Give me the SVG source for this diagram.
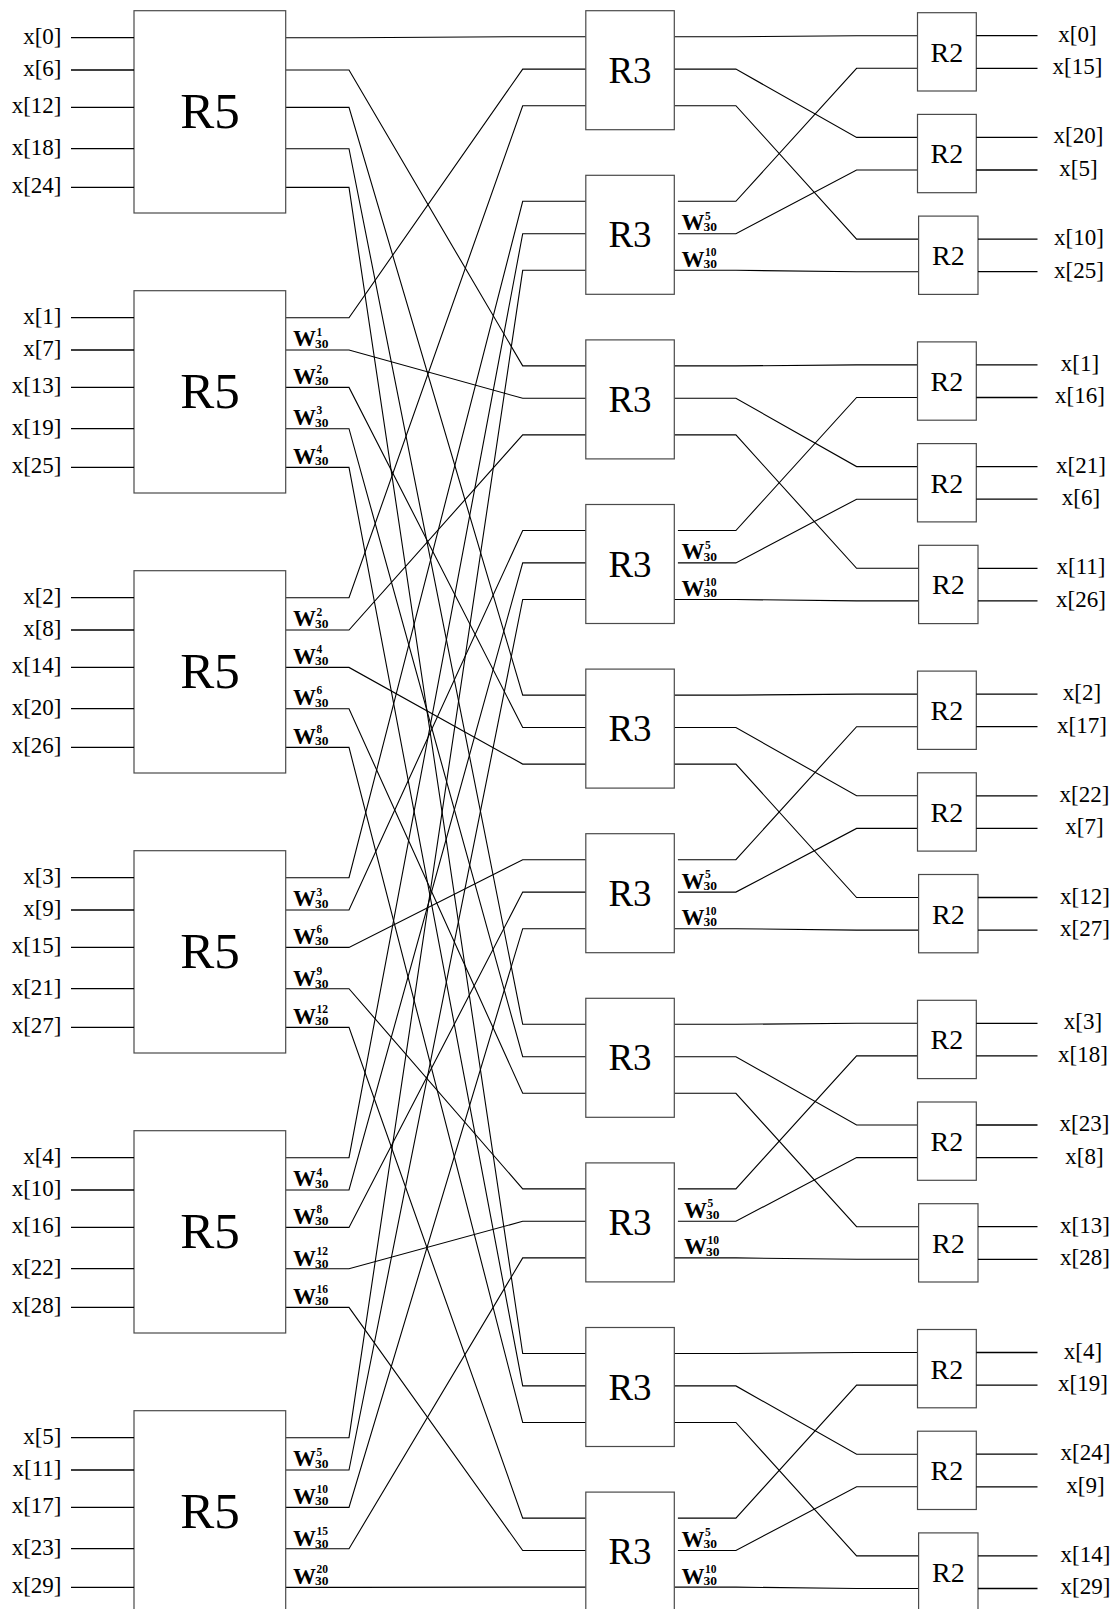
<svg xmlns="http://www.w3.org/2000/svg" width="1115" height="1609" viewBox="0 0 1115 1609">
<style>
  .box{fill:#fff;stroke:#4a4a4a;stroke-width:1.2}
  .wire{fill:none;stroke:#000;stroke-width:1.1}
  .stub{fill:none;stroke:#000;stroke-width:1.3}
  .io{font-family:"Liberation Serif","Times New Roman",serif;font-size:23px;fill:#000}
  .in{text-anchor:end}
  .out{text-anchor:middle}
  .title{font-family:"Liberation Serif","Times New Roman",serif;fill:#000;text-anchor:middle}
  .t5{font-size:51px}
  .t3{font-size:37px}
  .t2{font-size:28px}
  .w{font-family:"Liberation Serif","Times New Roman",serif;font-weight:bold;font-size:23px;fill:#000}
  .sub{font-size:13.5px}
  .sup{font-size:11.5px}
</style>

<!-- ===== connectors: R5 -> R3 and R3 -> R2 ===== -->
<g id="connectors" class="wire">
  <!-- R5 outputs to R3 inputs -->
  <path d="M285.7,37.7H349L522.7,36.7H585.8"/>
  <path d="M285.7,70H349L522.7,365.9H585.8"/>
  <path d="M285.7,107.4H349L522.7,695.1H585.8"/>
  <path d="M285.7,148.7H349L522.7,1024.3H585.8"/>
  <path d="M285.7,187.4H349L522.7,1353.5H585.8"/>
  <path d="M285.7,317.7H349L522.7,69.1H585.8"/>
  <path d="M285.7,350H349L522.7,398.3H585.8"/>
  <path d="M285.7,387.4H349L522.7,727.5H585.8"/>
  <path d="M285.7,428.7H349L522.7,1056.7H585.8"/>
  <path d="M285.7,467.4H349L522.7,1385.9H585.8"/>
  <path d="M285.7,597.7H349L522.7,105.7H585.8"/>
  <path d="M285.7,630H349L522.7,434.9H585.8"/>
  <path d="M285.7,667.4H349L522.7,764.1H585.8"/>
  <path d="M285.7,708.7H349L522.7,1093.3H585.8"/>
  <path d="M285.7,747.4H349L522.7,1422.5H585.8"/>
  <path d="M285.7,877.7H349L522.7,201.3H585.8"/>
  <path d="M285.7,910H349L522.7,530.5H585.8"/>
  <path d="M285.7,947.4H349L522.7,859.7H585.8"/>
  <path d="M285.7,988.7H349L522.7,1188.9H585.8"/>
  <path d="M285.7,1027.4H349L522.7,1518.1H585.8"/>
  <path d="M285.7,1157.7H349L522.7,233.7H585.8"/>
  <path d="M285.7,1190H349L522.7,562.9H585.8"/>
  <path d="M285.7,1227.4H349L522.7,892.1H585.8"/>
  <path d="M285.7,1268.7H349L522.7,1221.3H585.8"/>
  <path d="M285.7,1307.4H349L522.7,1550.5H585.8"/>
  <path d="M285.7,1437.7H349L522.7,270.3H585.8"/>
  <path d="M285.7,1470H349L522.7,599.5H585.8"/>
  <path d="M285.7,1507.4H349L522.7,928.7H585.8"/>
  <path d="M285.7,1548.7H349L522.7,1257.9H585.8"/>
  <path d="M285.7,1587.4H349L522.7,1587.1H585.8"/>

  <!-- R3 outputs to R2 inputs -->
  <path d="M674.3,36.7H735.9L856.6,35.7H917.5"/>
  <path d="M674.3,69.1H735.9L856.6,137.4H917.5"/>
  <path d="M674.3,105.7H735.9L856.6,239.1H918.6"/>
  <path d="M677.9,201.3H735.9L856.6,68.3H917.5"/>
  <path d="M677.9,233.7H735.9L856.6,170H917.5"/>
  <path d="M674.3,270.3H735.9L856.6,271.7H918.6"/>

  <path d="M674.3,365.9H735.9L856.6,364.9H917.5"/>
  <path d="M674.3,398.3H735.9L856.6,466.6H917.5"/>
  <path d="M674.3,434.9H735.9L856.6,568.3H918.6"/>
  <path d="M677.9,530.5H735.9L856.6,397.5H917.5"/>
  <path d="M677.9,562.9H735.9L856.6,499.2H917.5"/>
  <path d="M674.3,599.5H735.9L856.6,600.9H918.6"/>

  <path d="M674.3,695.1H735.9L856.6,694.1H917.5"/>
  <path d="M674.3,727.5H735.9L856.6,795.8H917.5"/>
  <path d="M674.3,764.1H735.9L856.6,897.5H918.6"/>
  <path d="M677.9,859.7H735.9L856.6,726.7H917.5"/>
  <path d="M677.9,892.1H735.9L856.6,828.4H917.5"/>
  <path d="M674.3,928.7H735.9L856.6,930.1H918.6"/>

  <path d="M674.3,1024.3H735.9L856.6,1023.3H917.5"/>
  <path d="M674.3,1056.7H735.9L856.6,1125H917.5"/>
  <path d="M674.3,1093.3H735.9L856.6,1226.7H918.6"/>
  <path d="M677.9,1188.9H735.9L856.6,1055.9H917.5"/>
  <path d="M677.9,1221.3H735.9L856.6,1157.6H917.5"/>
  <path d="M674.3,1257.9H735.9L856.6,1259.3H918.6"/>

  <path d="M674.3,1353.5H735.9L856.6,1352.5H917.5"/>
  <path d="M674.3,1385.9H735.9L856.6,1454.2H917.5"/>
  <path d="M674.3,1422.5H735.9L856.6,1555.9H918.6"/>
  <path d="M677.9,1518.1H735.9L856.6,1385.1H917.5"/>
  <path d="M677.9,1550.5H735.9L856.6,1486.8H917.5"/>
  <path d="M674.3,1587.1H735.9L856.6,1588.5H918.6"/>
</g>

<!-- ===== radix-5 stage ===== -->
<g id="r5-0" transform="translate(0,10.7)">
  <rect class="box" x="134" y="0" width="151.7" height="202.3"/>
  <text class="title t5" x="209.9" y="117.5">R5</text>
  <path class="stub" d="M71,27H134M71,59.3H134M71,96.7H134M71,138H134M71,176.7H134"/>
  <text class="io in" x="61.5" y="33">x[0]</text>
  <text class="io in" x="61.5" y="65.3">x[6]</text>
  <text class="io in" x="61.5" y="102.7">x[12]</text>
  <text class="io in" x="61.5" y="144">x[18]</text>
  <text class="io in" x="61.5" y="182.7">x[24]</text>
</g>

<g id="r5-1" transform="translate(0,290.7)">
  <rect class="box" x="134" y="0" width="151.7" height="202.3"/>
  <text class="title t5" x="209.9" y="117.5">R5</text>
  <path class="stub" d="M71,27H134M71,59.3H134M71,96.7H134M71,138H134M71,176.7H134"/>
  <text class="io in" x="61.5" y="33">x[1]</text>
  <text class="io in" x="61.5" y="65.3">x[7]</text>
  <text class="io in" x="61.5" y="102.7">x[13]</text>
  <text class="io in" x="61.5" y="144">x[19]</text>
  <text class="io in" x="61.5" y="182.7">x[25]</text>
  <text class="w" x="293" y="55.8">W<tspan class="sub" x="315" y="57.3">30</tspan><tspan class="sup" x="316.5" y="45">1</tspan></text>
  <text class="w" x="293" y="93.2">W<tspan class="sub" x="315" y="94.7">30</tspan><tspan class="sup" x="316.5" y="82.4">2</tspan></text>
  <text class="w" x="293" y="134.5">W<tspan class="sub" x="315" y="136">30</tspan><tspan class="sup" x="316.5" y="123.7">3</tspan></text>
  <text class="w" x="293" y="173.2">W<tspan class="sub" x="315" y="174.7">30</tspan><tspan class="sup" x="316.5" y="162.4">4</tspan></text>
</g>

<g id="r5-2" transform="translate(0,570.7)">
  <rect class="box" x="134" y="0" width="151.7" height="202.3"/>
  <text class="title t5" x="209.9" y="117.5">R5</text>
  <path class="stub" d="M71,27H134M71,59.3H134M71,96.7H134M71,138H134M71,176.7H134"/>
  <text class="io in" x="61.5" y="33">x[2]</text>
  <text class="io in" x="61.5" y="65.3">x[8]</text>
  <text class="io in" x="61.5" y="102.7">x[14]</text>
  <text class="io in" x="61.5" y="144">x[20]</text>
  <text class="io in" x="61.5" y="182.7">x[26]</text>
  <text class="w" x="293" y="55.8">W<tspan class="sub" x="315" y="57.3">30</tspan><tspan class="sup" x="316.5" y="45">2</tspan></text>
  <text class="w" x="293" y="93.2">W<tspan class="sub" x="315" y="94.7">30</tspan><tspan class="sup" x="316.5" y="82.4">4</tspan></text>
  <text class="w" x="293" y="134.5">W<tspan class="sub" x="315" y="136">30</tspan><tspan class="sup" x="316.5" y="123.7">6</tspan></text>
  <text class="w" x="293" y="173.2">W<tspan class="sub" x="315" y="174.7">30</tspan><tspan class="sup" x="316.5" y="162.4">8</tspan></text>
</g>

<g id="r5-3" transform="translate(0,850.7)">
  <rect class="box" x="134" y="0" width="151.7" height="202.3"/>
  <text class="title t5" x="209.9" y="117.5">R5</text>
  <path class="stub" d="M71,27H134M71,59.3H134M71,96.7H134M71,138H134M71,176.7H134"/>
  <text class="io in" x="61.5" y="33">x[3]</text>
  <text class="io in" x="61.5" y="65.3">x[9]</text>
  <text class="io in" x="61.5" y="102.7">x[15]</text>
  <text class="io in" x="61.5" y="144">x[21]</text>
  <text class="io in" x="61.5" y="182.7">x[27]</text>
  <text class="w" x="293" y="55.8">W<tspan class="sub" x="315" y="57.3">30</tspan><tspan class="sup" x="316.5" y="45">3</tspan></text>
  <text class="w" x="293" y="93.2">W<tspan class="sub" x="315" y="94.7">30</tspan><tspan class="sup" x="316.5" y="82.4">6</tspan></text>
  <text class="w" x="293" y="135.5">W<tspan class="sub" x="315" y="137">30</tspan><tspan class="sup" x="316.5" y="124.7">9</tspan></text>
  <text class="w" x="293" y="173.2">W<tspan class="sub" x="315" y="174.7">30</tspan><tspan class="sup" x="316.5" y="162.4">12</tspan></text>
</g>

<g id="r5-4" transform="translate(0,1130.7)">
  <rect class="box" x="134" y="0" width="151.7" height="202.3"/>
  <text class="title t5" x="209.9" y="117.5">R5</text>
  <path class="stub" d="M71,27H134M71,59.3H134M71,96.7H134M71,138H134M71,176.7H134"/>
  <text class="io in" x="61.5" y="33">x[4]</text>
  <text class="io in" x="61.5" y="65.3">x[10]</text>
  <text class="io in" x="61.5" y="102.7">x[16]</text>
  <text class="io in" x="61.5" y="144">x[22]</text>
  <text class="io in" x="61.5" y="182.7">x[28]</text>
  <text class="w" x="293" y="55.8">W<tspan class="sub" x="315" y="57.3">30</tspan><tspan class="sup" x="316.5" y="45">4</tspan></text>
  <text class="w" x="293" y="93.2">W<tspan class="sub" x="315" y="94.7">30</tspan><tspan class="sup" x="316.5" y="82.4">8</tspan></text>
  <text class="w" x="293" y="135.5">W<tspan class="sub" x="315" y="137">30</tspan><tspan class="sup" x="316.5" y="124.7">12</tspan></text>
  <text class="w" x="293" y="173.2">W<tspan class="sub" x="315" y="174.7">30</tspan><tspan class="sup" x="316.5" y="162.4">16</tspan></text>
</g>

<g id="r5-5" transform="translate(0,1410.7)">
  <rect class="box" x="134" y="0" width="151.7" height="202.3"/>
  <text class="title t5" x="209.9" y="117.5">R5</text>
  <path class="stub" d="M71,27H134M71,59.3H134M71,96.7H134M71,138H134M71,176.7H134"/>
  <text class="io in" x="61.5" y="33">x[5]</text>
  <text class="io in" x="61.5" y="65.3">x[11]</text>
  <text class="io in" x="61.5" y="102.7">x[17]</text>
  <text class="io in" x="61.5" y="144">x[23]</text>
  <text class="io in" x="61.5" y="182.7">x[29]</text>
  <text class="w" x="293" y="55.8">W<tspan class="sub" x="315" y="57.3">30</tspan><tspan class="sup" x="316.5" y="45">5</tspan></text>
  <text class="w" x="293" y="93.2">W<tspan class="sub" x="315" y="94.7">30</tspan><tspan class="sup" x="316.5" y="82.4">10</tspan></text>
  <text class="w" x="293" y="135.5">W<tspan class="sub" x="315" y="137">30</tspan><tspan class="sup" x="316.5" y="124.7">15</tspan></text>
  <text class="w" x="293" y="173.2">W<tspan class="sub" x="315" y="174.7">30</tspan><tspan class="sup" x="316.5" y="162.4">20</tspan></text>
</g>

<!-- ===== radix-3 stage ===== -->
<g id="r3-0" transform="translate(0,10.7)">
  <rect class="box" x="585.8" y="0" width="88.5" height="119"/>
  <text class="title t3" x="630" y="72">R3</text>
</g>
<g id="r3-1" transform="translate(0,175.3)">
  <rect class="box" x="585.8" y="0" width="88.5" height="119"/>
  <text class="title t3" x="630" y="72">R3</text>
  <text class="w" x="681.5" y="54.9">W<tspan class="sub" x="703.5" y="56.1">30</tspan><tspan class="sup" x="705" y="44.4">5</tspan></text>
  <text class="w" x="681.5" y="91.5">W<tspan class="sub" x="703.5" y="92.7">30</tspan><tspan class="sup" x="705" y="81">10</tspan></text>
</g>
<g id="r3-2" transform="translate(0,339.9)">
  <rect class="box" x="585.8" y="0" width="88.5" height="119"/>
  <text class="title t3" x="630" y="72">R3</text>
</g>
<g id="r3-3" transform="translate(0,504.5)">
  <rect class="box" x="585.8" y="0" width="88.5" height="119"/>
  <text class="title t3" x="630" y="72">R3</text>
  <text class="w" x="681.5" y="54.9">W<tspan class="sub" x="703.5" y="56.1">30</tspan><tspan class="sup" x="705" y="44.4">5</tspan></text>
  <text class="w" x="681.5" y="91.5">W<tspan class="sub" x="703.5" y="92.7">30</tspan><tspan class="sup" x="705" y="81">10</tspan></text>
</g>
<g id="r3-4" transform="translate(0,669.1)">
  <rect class="box" x="585.8" y="0" width="88.5" height="119"/>
  <text class="title t3" x="630" y="72">R3</text>
</g>
<g id="r3-5" transform="translate(0,833.7)">
  <rect class="box" x="585.8" y="0" width="88.5" height="119"/>
  <text class="title t3" x="630" y="72">R3</text>
  <text class="w" x="681.5" y="54.9">W<tspan class="sub" x="703.5" y="56.1">30</tspan><tspan class="sup" x="705" y="44.4">5</tspan></text>
  <text class="w" x="681.5" y="91.5">W<tspan class="sub" x="703.5" y="92.7">30</tspan><tspan class="sup" x="705" y="81">10</tspan></text>
</g>
<g id="r3-6" transform="translate(0,998.3)">
  <rect class="box" x="585.8" y="0" width="88.5" height="119"/>
  <text class="title t3" x="630" y="72">R3</text>
</g>
<g id="r3-7" transform="translate(0,1162.9)">
  <rect class="box" x="585.8" y="0" width="88.5" height="119"/>
  <text class="title t3" x="630" y="72">R3</text>
  <text class="w" x="684" y="54.9">W<tspan class="sub" x="706" y="56.1">30</tspan><tspan class="sup" x="707.5" y="44.4">5</tspan></text>
  <text class="w" x="684" y="91.5">W<tspan class="sub" x="706" y="92.7">30</tspan><tspan class="sup" x="707.5" y="81">10</tspan></text>
</g>
<g id="r3-8" transform="translate(0,1327.5)">
  <rect class="box" x="585.8" y="0" width="88.5" height="119"/>
  <text class="title t3" x="630" y="72">R3</text>
</g>
<g id="r3-9" transform="translate(0,1492.1)">
  <rect class="box" x="585.8" y="0" width="88.5" height="119"/>
  <text class="title t3" x="630" y="72">R3</text>
  <text class="w" x="681.5" y="54.9">W<tspan class="sub" x="703.5" y="56.1">30</tspan><tspan class="sup" x="705" y="44.4">5</tspan></text>
  <text class="w" x="681.5" y="91.5">W<tspan class="sub" x="703.5" y="92.7">30</tspan><tspan class="sup" x="705" y="81">10</tspan></text>
</g>

<!-- ===== radix-2 stage ===== -->
<g id="r2-0-0" transform="translate(0,12.7)">
  <rect class="box" x="917.5" y="0" width="58.8" height="78.3"/>
  <text class="title t2" x="946.9" y="49">R2</text>
  <path class="stub" d="M976.3,23H1037.5M976.3,55.6H1037.5"/>
  <text class="io out" x="1077.5" y="29">x[0]</text>
  <text class="io out" x="1077.5" y="61.6">x[15]</text>
</g>
<g id="r2-0-1" transform="translate(0,114.4)">
  <rect class="box" x="917.5" y="0" width="58.8" height="78.3"/>
  <text class="title t2" x="946.9" y="49">R2</text>
  <path class="stub" d="M976.3,23H1037.5M976.3,55.6H1037.5"/>
  <text class="io out" x="1078.5" y="29">x[20]</text>
  <text class="io out" x="1078.5" y="61.6">x[5]</text>
</g>
<g id="r2-0-2" transform="translate(0,216.1)">
  <rect class="box" x="918.6" y="0" width="59.4" height="78.3"/>
  <text class="title t2" x="948.3" y="49">R2</text>
  <path class="stub" d="M978,23H1037.5M978,55.6H1037.5"/>
  <text class="io out" x="1079" y="29">x[10]</text>
  <text class="io out" x="1079" y="61.6">x[25]</text>
</g>

<g id="r2-1-0" transform="translate(0,341.9)">
  <rect class="box" x="917.5" y="0" width="58.8" height="78.3"/>
  <text class="title t2" x="946.9" y="49">R2</text>
  <path class="stub" d="M976.3,23H1037.5M976.3,55.6H1037.5"/>
  <text class="io out" x="1080" y="29">x[1]</text>
  <text class="io out" x="1080" y="61.6">x[16]</text>
</g>
<g id="r2-1-1" transform="translate(0,443.6)">
  <rect class="box" x="917.5" y="0" width="58.8" height="78.3"/>
  <text class="title t2" x="946.9" y="49">R2</text>
  <path class="stub" d="M976.3,23H1037.5M976.3,55.6H1037.5"/>
  <text class="io out" x="1081" y="29">x[21]</text>
  <text class="io out" x="1081" y="61.6">x[6]</text>
</g>
<g id="r2-1-2" transform="translate(0,545.3)">
  <rect class="box" x="918.6" y="0" width="59.4" height="78.3"/>
  <text class="title t2" x="948.3" y="49">R2</text>
  <path class="stub" d="M978,23H1037.5M978,55.6H1037.5"/>
  <text class="io out" x="1081" y="29">x[11]</text>
  <text class="io out" x="1081" y="61.6">x[26]</text>
</g>

<g id="r2-2-0" transform="translate(0,671.1)">
  <rect class="box" x="917.5" y="0" width="58.8" height="78.3"/>
  <text class="title t2" x="946.9" y="49">R2</text>
  <path class="stub" d="M976.3,23H1037.5M976.3,55.6H1037.5"/>
  <text class="io out" x="1082" y="29">x[2]</text>
  <text class="io out" x="1082" y="61.6">x[17]</text>
</g>
<g id="r2-2-1" transform="translate(0,772.8)">
  <rect class="box" x="917.5" y="0" width="58.8" height="78.3"/>
  <text class="title t2" x="946.9" y="49">R2</text>
  <path class="stub" d="M976.3,23H1037.5M976.3,55.6H1037.5"/>
  <text class="io out" x="1084.5" y="29">x[22]</text>
  <text class="io out" x="1084.5" y="61.6">x[7]</text>
</g>
<g id="r2-2-2" transform="translate(0,874.5)">
  <rect class="box" x="918.6" y="0" width="59.4" height="78.3"/>
  <text class="title t2" x="948.3" y="49">R2</text>
  <path class="stub" d="M978,23H1037.5M978,55.6H1037.5"/>
  <text class="io out" x="1085" y="29">x[12]</text>
  <text class="io out" x="1085" y="61.6">x[27]</text>
</g>

<g id="r2-3-0" transform="translate(0,1000.3)">
  <rect class="box" x="917.5" y="0" width="58.8" height="78.3"/>
  <text class="title t2" x="946.9" y="49">R2</text>
  <path class="stub" d="M976.3,23H1037.5M976.3,55.6H1037.5"/>
  <text class="io out" x="1083" y="29">x[3]</text>
  <text class="io out" x="1083" y="61.6">x[18]</text>
</g>
<g id="r2-3-1" transform="translate(0,1102)">
  <rect class="box" x="917.5" y="0" width="58.8" height="78.3"/>
  <text class="title t2" x="946.9" y="49">R2</text>
  <path class="stub" d="M976.3,23H1037.5M976.3,55.6H1037.5"/>
  <text class="io out" x="1084.5" y="29">x[23]</text>
  <text class="io out" x="1084.5" y="61.6">x[8]</text>
</g>
<g id="r2-3-2" transform="translate(0,1203.7)">
  <rect class="box" x="918.6" y="0" width="59.4" height="78.3"/>
  <text class="title t2" x="948.3" y="49">R2</text>
  <path class="stub" d="M978,23H1037.5M978,55.6H1037.5"/>
  <text class="io out" x="1085" y="29">x[13]</text>
  <text class="io out" x="1085" y="61.6">x[28]</text>
</g>

<g id="r2-4-0" transform="translate(0,1329.5)">
  <rect class="box" x="917.5" y="0" width="58.8" height="78.3"/>
  <text class="title t2" x="946.9" y="49">R2</text>
  <path class="stub" d="M976.3,23H1037.5M976.3,55.6H1037.5"/>
  <text class="io out" x="1083" y="29">x[4]</text>
  <text class="io out" x="1083" y="61.6">x[19]</text>
</g>
<g id="r2-4-1" transform="translate(0,1431.2)">
  <rect class="box" x="917.5" y="0" width="58.8" height="78.3"/>
  <text class="title t2" x="946.9" y="49">R2</text>
  <path class="stub" d="M976.3,23H1037.5M976.3,55.6H1037.5"/>
  <text class="io out" x="1085.5" y="29">x[24]</text>
  <text class="io out" x="1085.5" y="61.6">x[9]</text>
</g>
<g id="r2-4-2" transform="translate(0,1532.9)">
  <rect class="box" x="918.6" y="0" width="59.4" height="78.3"/>
  <text class="title t2" x="948.3" y="49">R2</text>
  <path class="stub" d="M978,23H1037.5M978,55.6H1037.5"/>
  <text class="io out" x="1085.5" y="29">x[14]</text>
  <text class="io out" x="1085.5" y="61.6">x[29]</text>
</g>
</svg>
